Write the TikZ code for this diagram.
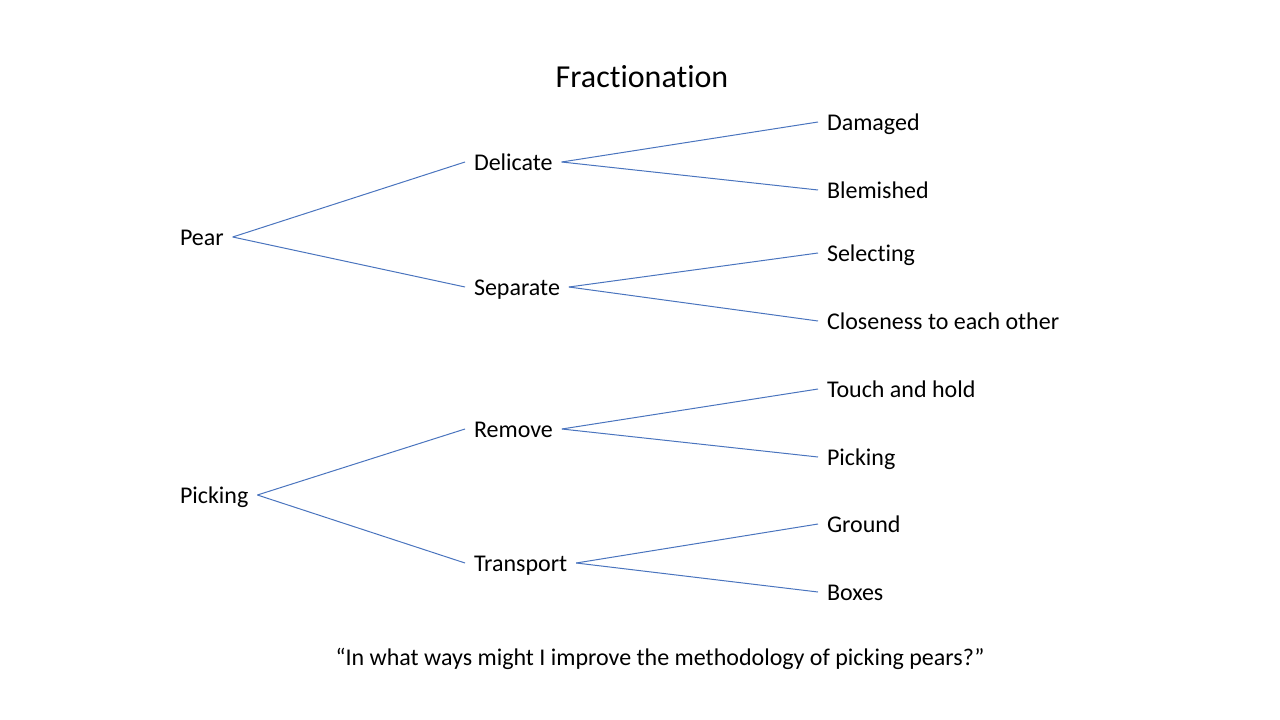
\documentclass[tikz,border=0pt]{standalone}
\usepackage{fontspec}
\setmainfont[Ligatures=NoCommon]{Carlito}
\definecolor{branchblue}{HTML}{4A74BE}
\begin{document}
\begin{tikzpicture}[x=0.75pt,y=-0.75pt,inner sep=0pt,outer sep=0pt,
item/.style={anchor=west,inner xsep=6.75pt,text height=12.6pt,text depth=0pt,font=\fontsize{18}{22}\selectfont},
branch/.style={draw=branchblue,line width=0.75pt}]
\useasboundingbox (0,0) rectangle (1280,720);
\node[anchor=base,font=\fontsize{24}{29}\selectfont] (title) at (642,88) {Fractionation};
\node[item] (pear) at (171,237) {Pear};
\node[item] (picking) at (171,495) {Picking};
\node[item] (delicate) at (465,162) {Delicate};
\node[item] (separate) at (465,287) {Separate};
\node[item] (remove) at (465,429) {Remove};
\node[item] (transport) at (465,563) {Transport};
\node[item] (damaged) at (818,122) {Damaged};
\node[item] (blemished) at (818,190) {Blemished};
\node[item] (selecting) at (818,253) {Selecting};
\node[item] (closeness) at (818,321) {Closeness to each other};
\node[item] (touch) at (818,389) {Touch and hold};
\node[item] (pickingleaf) at (818,457) {Picking};
\node[item] (ground) at (818,524) {Ground};
\node[item] (boxes) at (818,592) {Boxes};
\node[anchor=base,font=\fontsize{18}{22}\selectfont] (question) at (660,665) {“In what ways might I improve the methodology of picking pears?”};
\draw[branch] (pear.east) -- (delicate.west);
\draw[branch] (pear.east) -- (separate.west);
\draw[branch] (picking.east) -- (remove.west);
\draw[branch] (picking.east) -- (transport.west);
\draw[branch] (delicate.east) -- (damaged.west);
\draw[branch] (delicate.east) -- (blemished.west);
\draw[branch] (separate.east) -- (selecting.west);
\draw[branch] (separate.east) -- (closeness.west);
\draw[branch] (remove.east) -- (touch.west);
\draw[branch] (remove.east) -- (pickingleaf.west);
\draw[branch] (transport.east) -- (ground.west);
\draw[branch] (transport.east) -- (boxes.west);
\end{tikzpicture}
\end{document}
